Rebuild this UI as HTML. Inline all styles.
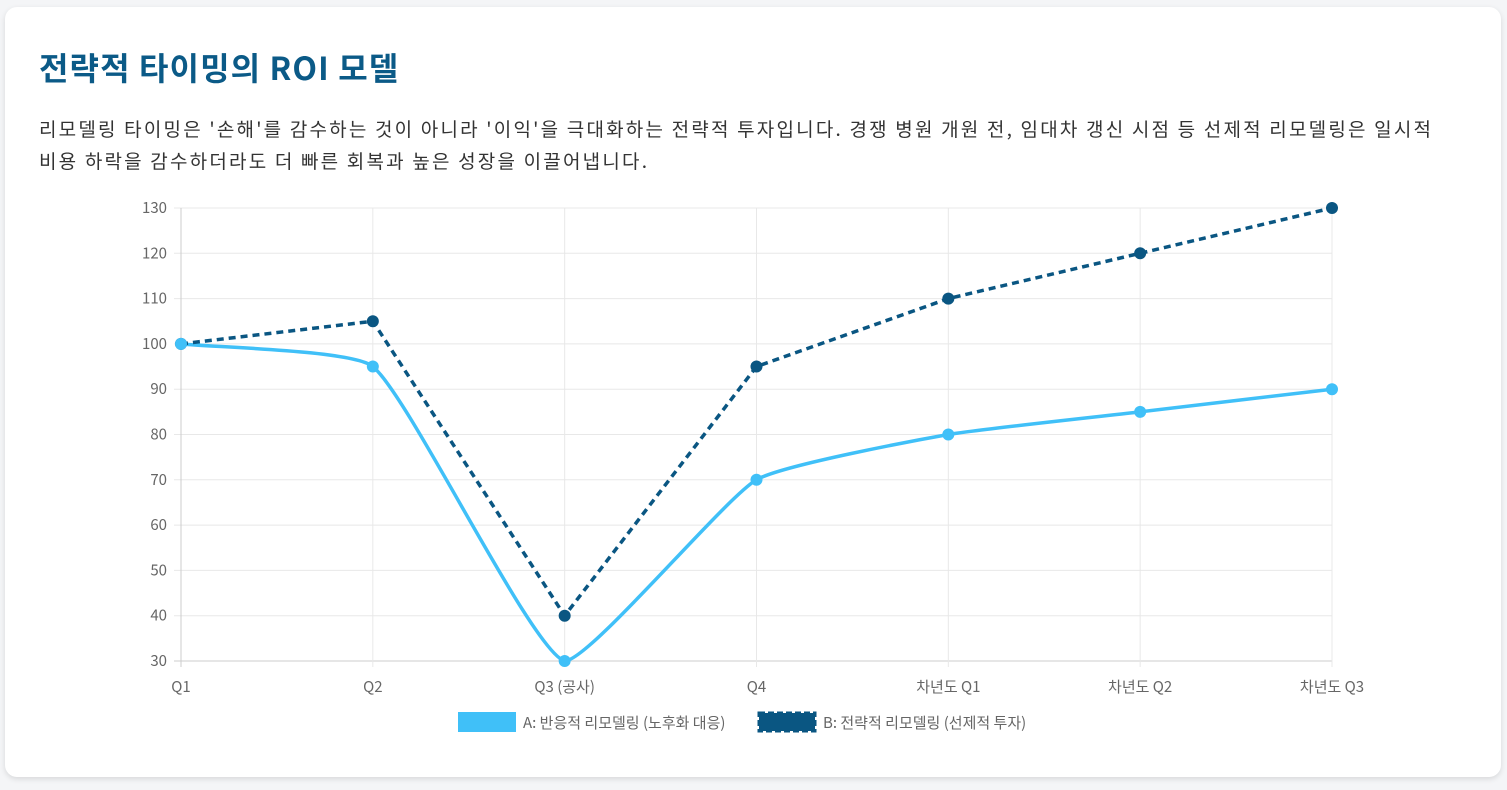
<!DOCTYPE html>
<html><head><meta charset="utf-8"><style>
body{margin:0;width:1507px;height:790px;background:#f4f5f7;font-family:"Noto Sans CJK KR",sans-serif;overflow:hidden}
.card{position:absolute;left:5px;top:7px;width:1496px;height:770px;background:#fff;border-radius:12px;box-shadow:0 2px 6px rgba(0,0,0,.12)}
h1{position:absolute;left:34px;top:37px;margin:0;font-size:32px;letter-spacing:1.1px;font-weight:bold;color:#0b5a87;font-family:"Noto Sans CJK KR",sans-serif}
p{position:absolute;left:34px;top:106px;margin:0;font-size:19px;letter-spacing:2.2px;line-height:32px;color:#333;width:1470px;white-space:nowrap;font-family:"Noto Sans CJK KR",sans-serif}
svg{position:absolute;left:0;top:0;font-family:"Noto Sans CJK KR",sans-serif}
</style></head><body>
<div class="card">
<h1>전략적 타이밍의 ROI 모델</h1>
<p>리모델링 타이밍은 '손해'를 감수하는 것이 아니라 '이익'을 극대화하는 전략적 투자입니다. 경쟁 병원 개원 전, 임대차 갱신 시점 등 선제적 리모델링은 일시적<br>비용 하락을 감수하더라도 더 빠른 회복과 높은 성장을 이끌어냅니다.</p>
</div>
<svg id="chart" width="1507" height="790"></svg>
<script>
const categories=["Q1","Q2","Q3 (공사)","Q4","차년도 Q1","차년도 Q2","차년도 Q3"];
const seriesA=[100,95,30,70,80,85,90];
const seriesB=[100,105,40,95,110,120,130];
const yTicks=[30,40,50,60,70,80,90,100,110,120,130];
const legendLabels=["A: 반응적 리모델링 (노후화 대응)","B: 전략적 리모델링 (선제적 투자)"];
const NS="http://www.w3.org/2000/svg";
const svg=document.getElementById('chart');
const X0=181,X1=1332,Y0=661,Y1=208,ymin=30,ymax=130;
const xs=i=>X0+(X1-X0)*i/(categories.length-1);
const ys=v=>Y0-(v-ymin)/(ymax-ymin)*(Y0-Y1);
function mk(t,a,p){const e=document.createElementNS(NS,t);for(const k in a)e.setAttribute(k,a[k]);(p||svg).appendChild(e);return e;}
yTicks.forEach(v=>{
 const l=mk('line',{x1:174,x2:X1,y1:ys(v),y2:ys(v),stroke:v===ymin?'#ccc':'#e8e8e8','stroke-width':1});
 
 
 const t=mk('text',{x:167,y:ys(v)+5,'text-anchor':'end','font-size':15,fill:'#666'});
 t.textContent=v;
 
 
});
categories.forEach((c,i)=>{
 const l=mk('line',{x1:xs(i),x2:xs(i),y1:Y1,y2:Y0+6,stroke:i===0?'#ccc':'#e8e8e8','stroke-width':1});
 
 
 const t=mk('text',{x:xs(i),y:692,'text-anchor':'middle','font-size':15,fill:'#666'});
 t.textContent=c;
 
 
});
function spline(pts,ten){
 const n=pts.length,cp=[];
 for(let i=0;i<n;i++){
  const pr=pts[Math.max(0,i-1)],cu=pts[i],nx=pts[Math.min(n-1,i+1)];
  const d01=Math.hypot(cu[0]-pr[0],cu[1]-pr[1]),d12=Math.hypot(nx[0]-cu[0],nx[1]-cu[1]);
  const s01=d01/(d01+d12)||0,s12=d12/(d01+d12)||0;
  const fa=ten*s01,fb=ten*s12;
  const c1=[cu[0]-fa*(nx[0]-pr[0]),Math.min(Y0,Math.max(Y1,cu[1]-fa*(nx[1]-pr[1])))];
  const c2=[cu[0]+fb*(nx[0]-pr[0]),Math.min(Y0,Math.max(Y1,cu[1]+fb*(nx[1]-pr[1])))];
  cp.push([c1,c2]);
 }
 let s='M'+pts[0][0]+','+pts[0][1];
 for(let i=0;i<n-1;i++){s+=` C${cp[i][1][0]},${cp[i][1][1]} ${cp[i+1][0][0]},${cp[i+1][0][1]} ${pts[i+1][0]},${pts[i+1][1]}`;}
 return s;
}
const pa=seriesA.map((v,i)=>[xs(i),ys(v)]);
const pb=seriesB.map((v,i)=>[xs(i),ys(v)]);
const la=mk('path',{d:spline(pa,0.15),fill:'none',stroke:'#40c0f8','stroke-width':3.5});


const lb=mk('path',{d:'M'+pb.map(p=>p.join(',')).join(' L'),fill:'none',stroke:'#0a5682','stroke-width':3.5,'stroke-dasharray':'7 5'});


pb.forEach(p=>{const c=mk('circle',{cx:p[0],cy:p[1],r:6,fill:'#0a5682'});
 
 });
pa.forEach(p=>{const c=mk('circle',{cx:p[0],cy:p[1],r:6,fill:'#40c0f8'});
 
 });
const r1=mk('rect',{x:458,y:712,width:58,height:20,fill:'#40c0f8'});


const t1=mk('text',{x:523,y:728,'font-size':15,fill:'#666'});t1.textContent=legendLabels[0];


const r2=mk('rect',{x:759,y:713,width:56,height:18,fill:'#0a5682',stroke:'#0a5682','stroke-width':3,'stroke-dasharray':'6 3'});


const t2=mk('text',{x:823,y:728,'font-size':15,fill:'#666'});t2.textContent=legendLabels[1];


</script>
</body></html>
